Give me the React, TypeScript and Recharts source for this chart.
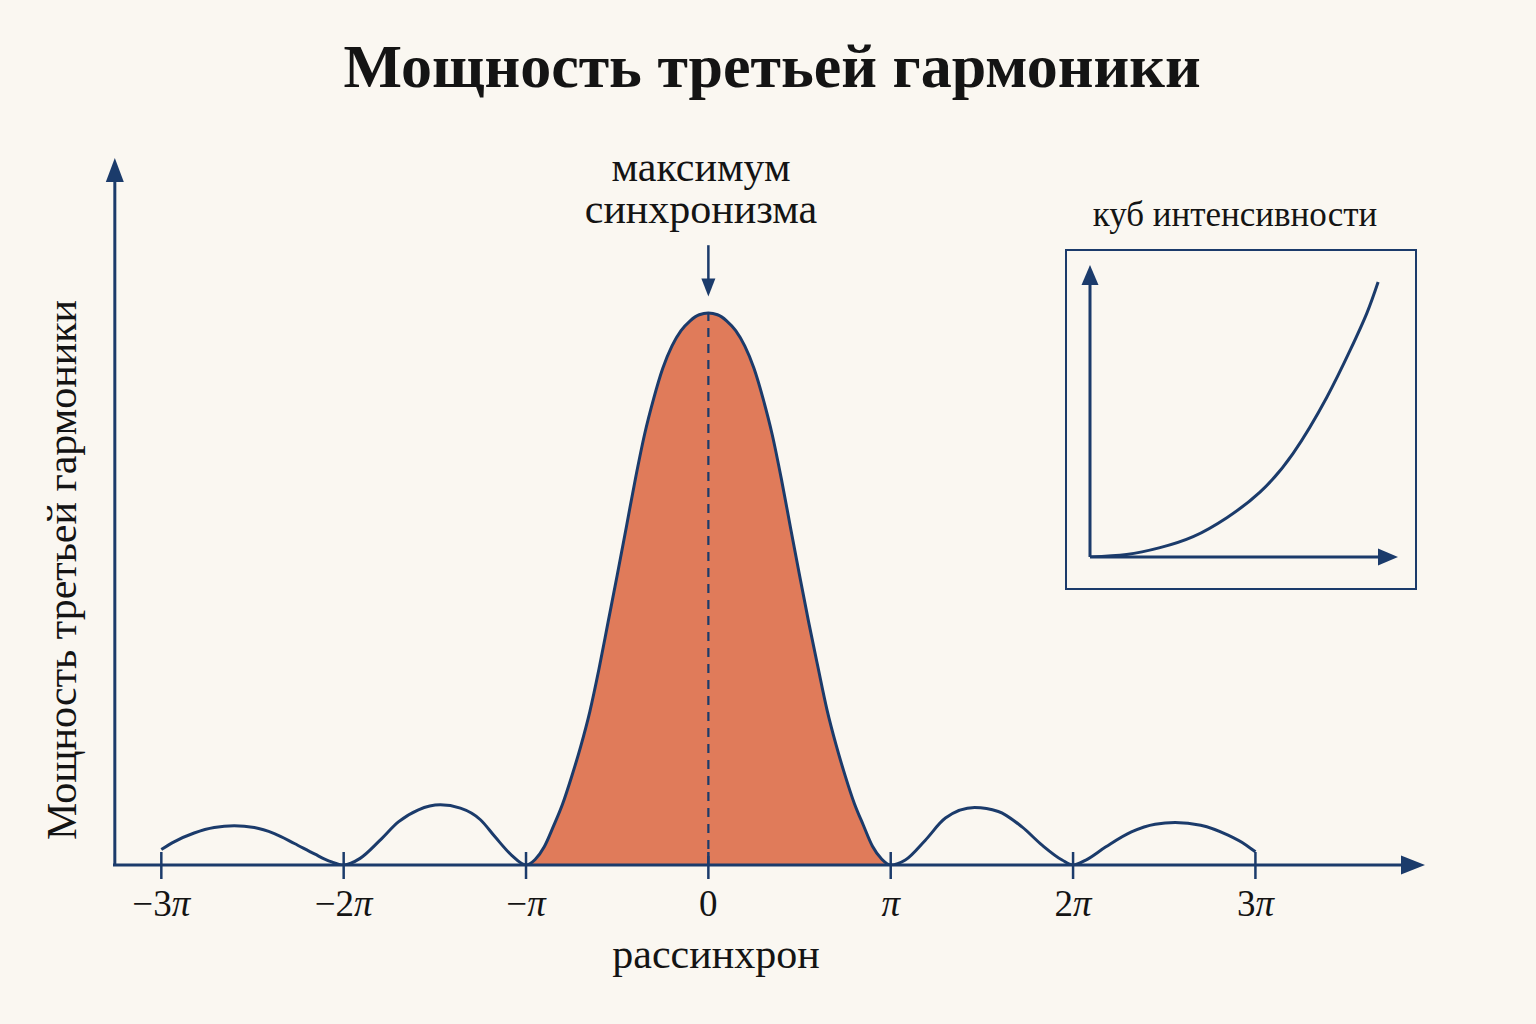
import React from "react"
import { Area, ComposedChart, Line, LineChart, ReferenceLine, XAxis, YAxis } from "recharts"

const NAVY = "#1b3b6b"
const ORANGE = "#e07b5a"
const BG = "#faf7f1"
const INK = "#141414"
const SERIF = '"Liberation Serif", "Times New Roman", serif'

// detuning in units of pi, and normalized third-harmonic power
const DETUNING = [
  -3, -2.93, -2.82, -2.71, -2.6, -2.49, -2.38, -2.27, -2.16, -2.07, -2,
  -1.91, -1.8, -1.7, -1.59, -1.47, -1.36, -1.25, -1.17, -1.08, -1,
  -0.95, -0.9, -0.85, -0.8, -0.75, -0.7, -0.65, -0.6, -0.55, -0.5,
  -0.45, -0.4, -0.35, -0.3, -0.25, -0.2, -0.15, -0.1, -0.05, 0,
  0.05, 0.1, 0.15, 0.2, 0.25, 0.3, 0.35, 0.4, 0.45, 0.5,
  0.55, 0.6, 0.65, 0.7, 0.75, 0.8, 0.85, 0.9, 0.95, 1,
  1.08, 1.19, 1.3, 1.46, 1.59, 1.72, 1.83, 1.94, 2,
  2.07, 2.18, 2.32, 2.45, 2.56, 2.7, 2.85, 2.95, 3,
]
const POWER = [
  0.028, 0.042, 0.058, 0.068, 0.071, 0.068, 0.057, 0.039, 0.02, 0.006, 0,
  0.012, 0.045, 0.078, 0.1, 0.109, 0.103, 0.082, 0.051, 0.018, 0,
  0.01, 0.033, 0.07, 0.11, 0.16, 0.215, 0.278, 0.355, 0.44, 0.525,
  0.612, 0.7, 0.78, 0.845, 0.9, 0.94, 0.968, 0.986, 0.997, 1,
  0.997, 0.986, 0.968, 0.94, 0.9, 0.845, 0.78, 0.7, 0.612, 0.525,
  0.44, 0.36, 0.282, 0.218, 0.162, 0.112, 0.072, 0.034, 0.011, 0,
  0.009, 0.045, 0.085, 0.104, 0.097, 0.069, 0.036, 0.009, 0,
  0.009, 0.033, 0.06, 0.074, 0.077, 0.072, 0.054, 0.036, 0.024,
]
const TICKS = [-3, -2, -1, 0, 1, 2, 3]

// inset: intensity vs cube
const INSET_X = [0, 0.127, 0.243, 0.358, 0.475, 0.59, 0.705, 0.822, 0.903, 0.961, 1]
const INSET_Y = [0, 0.009, 0.034, 0.074, 0.143, 0.236, 0.377, 0.581, 0.752, 0.887, 1]

const X_MIN = -3.265
const X_MAX = 3.93
const Y_MAX = 1.281

const rows = DETUNING.map((u, i) => ({
  u,
  p: POWER[i],
  lobe: Math.abs(u) <= 1 ? POWER[i] : null,
}))
const insetRows = INSET_X.map((x, i) => ({ x, y: INSET_Y[i] }))

const arrow = (len: number, half: number, width: number) => (props: any) => {
  const { x1, y1, x2, y2 } = props
  const dx = x2 - x1
  const dy = y2 - y1
  const d = Math.hypot(dx, dy) || 1
  const ux = dx / d
  const uy = dy / d
  const bx = x2 - ux * len
  const by = y2 - uy * len
  return (
    <g>
      <line x1={x1} y1={y1} x2={bx + ux * 2} y2={by + uy * 2} stroke={NAVY} strokeWidth={width} />
      <polygon
        points={`${x2},${y2} ${bx - uy * half},${by + ux * half} ${bx + uy * half},${by - ux * half}`}
        fill={NAVY}
      />
    </g>
  )
}

function PiTick({ x, y, payload }: any) {
  const v = payload.value
  const a = Math.abs(v)
  const coef = v === 0 ? "0" : (v < 0 ? "−" : "") + (a === 1 ? "" : String(a))
  return (
    <g>
      <line x1={x} x2={x} y1={y - 13} y2={y + 14} stroke={NAVY} strokeWidth={2.5} />
      <text x={x} y={y + 51} textAnchor="middle" fontFamily={SERIF} fontSize={37} fill={INK}>
        {coef}
        {v !== 0 && <tspan fontStyle="italic">π</tspan>}
      </text>
    </g>
  )
}

export default function App() {
  return (
    <div style={{ position: "absolute", left: 0, top: 0, width: 1536, height: 1024, background: BG }}>
      <ComposedChart
        width={1536}
        height={1024}
        data={rows}
        margin={{ top: 158, right: 111, bottom: 99, left: 113 }}
      >
        <XAxis
          type="number"
          dataKey="u"
          domain={[X_MIN, X_MAX]}
          allowDataOverflow
          ticks={TICKS}
          interval={0}
          axisLine={false}
          tickLine={false}
          tickSize={0}
          tickMargin={0}
          height={60}
          tick={<PiTick />}
        />
        <YAxis type="number" domain={[0, Y_MAX]} allowDataOverflow hide />
        <Area
          type="monotone"
          dataKey="lobe"
          fill={ORANGE}
          fillOpacity={1}
          stroke="none"
          isAnimationActive={false}
        />
        <ReferenceLine
          segment={[{ x: 0, y: 0 }, { x: 0, y: 1 }]}
          stroke={NAVY}
          strokeWidth={2.2}
          strokeDasharray="9 7"
          ifOverflow="visible"
        />
        <Line
          type="monotone"
          dataKey="p"
          stroke={NAVY}
          strokeWidth={3}
          dot={false}
          activeDot={false}
          isAnimationActive={false}
        />
        <ReferenceLine
          segment={[{ x: X_MIN, y: 0 }, { x: X_MAX, y: 0 }]}
          ifOverflow="visible"
          shape={arrow(24, 9.5, 3)}
        />
        <ReferenceLine
          segment={[{ x: X_MIN + 0.01, y: 0 }, { x: X_MIN + 0.01, y: Y_MAX }]}
          ifOverflow="visible"
          shape={arrow(24, 9, 3)}
        />
        <ReferenceLine
          segment={[{ x: 0, y: 1.123 }, { x: 0, y: 1.03 }]}
          ifOverflow="visible"
          shape={arrow(18, 7, 2.5)}
        />
      </ComposedChart>

      <div style={{ position: "absolute", left: 1065, top: 249, width: 352, height: 341 }}>
        <LineChart width={352} height={341} data={insetRows} margin={{ top: 16, right: 19, bottom: 33, left: 25 }}>
          <XAxis type="number" dataKey="x" domain={[0, 1.069]} allowDataOverflow hide />
          <YAxis type="number" domain={[0, 1.062]} allowDataOverflow hide />
          <ReferenceLine
            segment={[{ x: 0, y: 0 }, { x: 1.069, y: 0 }]}
            ifOverflow="visible"
            shape={arrow(20, 8.5, 3)}
          />
          <ReferenceLine
            segment={[{ x: 0, y: 0 }, { x: 0, y: 1.062 }]}
            ifOverflow="visible"
            shape={arrow(20, 8.5, 3)}
          />
          <Line
            type="natural"
            dataKey="y"
            stroke={NAVY}
            strokeWidth={3}
            dot={false}
            activeDot={false}
            isAnimationActive={false}
          />
        </LineChart>
        <div
          style={{
            position: "absolute",
            inset: 0,
            border: `2.5px solid ${NAVY}`,
            boxSizing: "border-box",
            pointerEvents: "none",
          }}
        />
      </div>

      <svg
        width={1536}
        height={1024}
        style={{ position: "absolute", left: 0, top: 0, pointerEvents: "none" }}
        fontFamily={SERIF}
        fill={INK}
      >
        <text x={772} y={87} textAnchor="middle" fontSize={62} fontWeight="bold">
          Мощность третьей гармоники
        </text>
        <text x={76} y={570} textAnchor="middle" fontSize={42} transform="rotate(-90 76 570)">
          Мощность третьей гармоники
        </text>
        <text x={716} y={968} textAnchor="middle" fontSize={42}>
          рассинхрон
        </text>
        <text x={701} y={181} textAnchor="middle" fontSize={42}>
          максимум
        </text>
        <text x={701} y={223} textAnchor="middle" fontSize={42}>
          синхронизма
        </text>
        <text x={1235} y={226} textAnchor="middle" fontSize={35}>
          куб интенсивности
        </text>
      </svg>
    </div>
  )
}
